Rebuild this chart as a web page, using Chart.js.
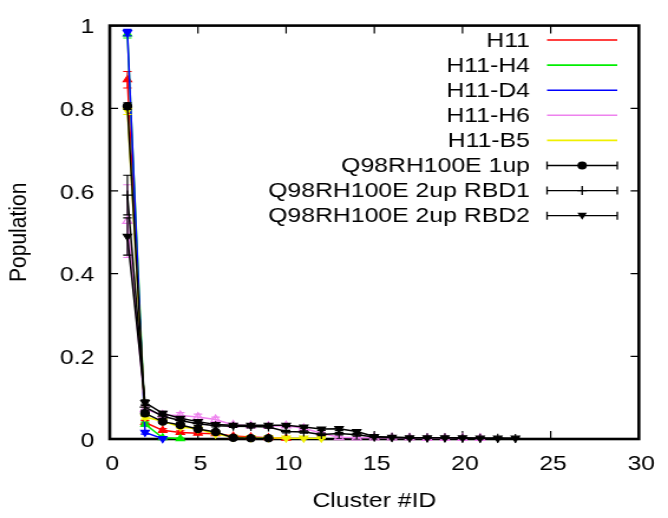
<!DOCTYPE html>
<html><head><meta charset="utf-8">
<script src="https://cdn.jsdelivr.net/npm/chart.js@4/dist/chart.umd.min.js"></script>
<style>
html,body{margin:0;padding:0;background:#fff;}
#wrap{width:668px;height:518px;overflow:hidden;position:relative;background:#fff;}
#c{transform:scaleX(1.180212);transform-origin:0 0;display:block;}
</style></head><body>
<div id="wrap"><canvas id="c" width="566" height="518"></canvas></div>
<script>
// ---- data ----
const clusterIds = [1,2,3,4,5,6,7,8,9,10,11,12,13,14,15,16,17,18,19,20,21,22,23];
const xTickValues = [0,5,10,15,20,25,30];
const yTickValues = [0,0.2,0.4,0.6,0.8,1];
const seriesNames = ['H11','H11-H4','H11-D4','H11-H6','H11-B5','Q98RH100E 1up','Q98RH100E 2up RBD1','Q98RH100E 2up RBD2'];

const h11    = [0.869,0.040,0.021,0.016,0.014,0.013,0.007,0.005,0.003,0.002];
const h11Err = [0.020,0.005,0.004,0.004,0.003,0.003,0.002,0.002,0.001,0.001];

const h11h4    = [0.980,0.036,0.003,0.001];
const h11h4Err = [0.010,0.005,0.001,0.001];

const h11d4    = [0.983,0.016,0.001];
const h11d4Err = [0.008,0.004,0.001];

const h11h6    = [0.527,0.072,0.058,0.057,0.053,0.047,0.034,0.032,0.031,0.032,0.026,0.014,0.004,0.003,0.003,0.003,0.003,0.002,0.002,0.002,0.002];
const h11h6Err = [0.088,0.008,0.007,0.007,0.007,0.006,0.004,0.003,0.003,0.003,0.003,0.002,0.001,0.001,0.001,0.001,0.001,0.001,0.001,0.001,0.001];

const h11b5    = [0.795,0.053,0.043,0.029,0.024,0.012,0.004,0.003,0.003,0.002,0.002,0.002];
const h11b5Err = [0.010,0.005,0.004,0.004,0.003,0.002,0.001,0.001,0.001,0.001,0.001,0.001];

const up1    = [0.805,0.062,0.042,0.034,0.024,0.017,0.003,0.002,0.002];
const up1Err = [0.008,0.006,0.004,0.004,0.003,0.002,0.001,0.001,0.001];

const rbd1    = [0.590,0.077,0.055,0.045,0.037,0.032,0.031,0.030,0.029,0.018,0.017,0.011,0.013,0.010,0.005,0.004,0.003,0.003,0.003,0.002,0.002,0.002,0.001];
const rbd1Err = [0.048,0.007,0.005,0.004,0.004,0.003,0.003,0.003,0.003,0.003,0.003,0.003,0.003,0.003,0.002,0.001,0.001,0.001,0.001,0.001,0.001,0.001,0.001];

const rbd2    = [0.490,0.088,0.062,0.050,0.042,0.035,0.033,0.033,0.033,0.033,0.029,0.024,0.025,0.018,0.006,0.004,0.003,0.003,0.003,0.003,0.002,0.002,0.002];
const rbd2Err = [0.045,0.007,0.005,0.004,0.004,0.003,0.003,0.003,0.003,0.003,0.003,0.003,0.004,0.004,0.002,0.001,0.001,0.001,0.001,0.001,0.001,0.001,0.001];

// ---- styling ----
const FONT = '"Liberation Sans", Arial, Helvetica, sans-serif';
Chart.defaults.font.family = FONT;
Chart.defaults.color = '#000';

function pts(vals){ return vals.map((v,i)=>({x:clusterIds[i], y:v})); }

const styles = [
  {color:'#ff0000', fill:'#ff0000', style:'triangle', rot:0,   r:4},
  {color:'#00ee00', fill:'#00ee00', style:'triangle', rot:0,   r:4},
  {color:'#0000ff', fill:'#0000ff', style:'triangle', rot:180, r:4},
  {color:'#ee82ee', fill:'rgba(0,0,0,0)', style:'triangle', rot:0, r:4.5},
  {color:'#f0f000', fill:'#f0f000', style:'triangle', rot:180, r:4},
  {color:'#000000', fill:'#000000', style:'circle',   rot:0,   r:3.6},
  {color:'#000000', fill:'#000000', style:'cross',    rot:0,   r:4.5},
  {color:'#000000', fill:'#000000', style:'triangle', rot:180, r:4}
];
const values = [h11,h11h4,h11d4,h11h6,h11b5,up1,rbd1,rbd2];
const errs   = [h11Err,h11h4Err,h11d4Err,h11h6Err,h11b5Err,up1Err,rbd1Err,rbd2Err];

const datasets = values.map((v,i)=>({
  label: seriesNames[i],
  data: pts(v),
  errors: errs[i],
  borderColor: styles[i].color,
  backgroundColor: styles[i].fill,
  pointBackgroundColor: styles[i].fill,
  pointBorderColor: styles[i].color,
  pointStyle: styles[i].style,
  pointRotation: styles[i].rot,
  pointRadius: styles[i].r,
  pointBorderWidth: 1.2,
  borderWidth: 1.5,
  tension: 0,
  fill: false,
  clip: false,
  order: 8 - i
}));

const errorBars = {
  id:'errorBars',
  beforeDatasetDraw(chart, args){
    const ds = chart.data.datasets[args.index];
    const y = chart.scales.y, ctx = chart.ctx;
    ctx.save();
    ctx.strokeStyle = ds.borderColor;
    ctx.lineWidth = 1.2;
    args.meta.data.forEach((p,j)=>{
      const v = ds.data[j].y, e = ds.errors[j];
      const t = y.getPixelForValue(v+e), b = y.getPixelForValue(Math.max(0,v-e) === 0 ? v-e : v-e);
      const hw = 3.6;
      ctx.beginPath();
      ctx.moveTo(p.x,t); ctx.lineTo(p.x,b);
      ctx.moveTo(p.x-hw,t); ctx.lineTo(p.x+hw,t);
      ctx.moveTo(p.x-hw,b); ctx.lineTo(p.x+hw,b);
      ctx.stroke();
    });
    ctx.restore();
  }
};

const frame = {
  id:'frame',
  beforeDatasetsDraw(chart){
    const {ctx, chartArea:a, scales:{x,y}} = chart;
    ctx.save();
    ctx.strokeStyle = '#000';
    ctx.lineWidth = 1.2;
    ctx.beginPath();
    x.ticks.forEach(t=>{
      const px = x.getPixelForValue(t.value);
      ctx.moveTo(px,a.bottom); ctx.lineTo(px,a.bottom-8);
      ctx.moveTo(px,a.top); ctx.lineTo(px,a.top+8);
    });
    y.ticks.forEach(t=>{
      const py = y.getPixelForValue(t.value);
      ctx.moveTo(a.left,py); ctx.lineTo(a.left+7,py);
      ctx.moveTo(a.right,py); ctx.lineTo(a.right-7,py);
    });
    ctx.stroke();
    ctx.lineWidth = 2.6;
    ctx.strokeRect(a.left,a.top,a.right-a.left,a.bottom-a.top);
    ctx.restore();
  }
};

const legendBox = {
  id:'legendBox',
  afterDraw(chart){
    const ctx = chart.ctx;
    ctx.save();
    ctx.font = '21px ' + FONT;
    ctx.textAlign = 'right';
    ctx.textBaseline = 'middle';
    const textX = 449, x0 = 463.5, x1 = 523, xm = (x0+x1)/2;
    seriesNames.forEach((name,i)=>{
      const yy = 40 + i*25.1;
      ctx.fillStyle = '#000';
      ctx.fillText(name, textX, yy+1);
      const s = styles[i];
      ctx.strokeStyle = s.color;
      ctx.lineWidth = i < 5 ? 1.6 : 1.3;
      ctx.beginPath();
      ctx.moveTo(x0,yy); ctx.lineTo(x1,yy);
      if (i >= 5) {
        ctx.moveTo(x0,yy-4); ctx.lineTo(x0,yy+4);
        ctx.moveTo(x1,yy-4); ctx.lineTo(x1,yy+4);
      }
      ctx.stroke();
      ctx.fillStyle = '#000';
      if (i === 5) {
        ctx.beginPath(); ctx.arc(xm,yy,4,0,Math.PI*2); ctx.fill();
      } else if (i === 6) {
        ctx.beginPath(); ctx.moveTo(xm,yy-4.5); ctx.lineTo(xm,yy+4.5);
        ctx.moveTo(xm-4,yy); ctx.lineTo(xm+4,yy); ctx.stroke();
      } else if (i === 7) {
        ctx.beginPath(); ctx.moveTo(xm-4,yy-3); ctx.lineTo(xm+4,yy-3); ctx.lineTo(xm,yy+4); ctx.closePath(); ctx.fill();
      }
    });
    ctx.restore();
  }
};

new Chart(document.getElementById('c'), {
  type:'line',
  data:{datasets},
  plugins:[errorBars, frame, legendBox],
  options:{
    responsive:false,
    animation:false,
    events:[],
    layout:{padding:{left:0, right:18, top:18, bottom:0}},
    plugins:{legend:{display:false}, tooltip:{enabled:false}},
    scales:{
      x:{
        type:'linear', min:0, max:30,
        afterBuildTicks(s){ s.ticks = xTickValues.map(v=>({value:v})); },
        afterFit(s){ s.height = 79; },
        grid:{display:false, drawTicks:false},
        border:{display:false},
        ticks:{font:{size:21}, padding:13, labelOffset:2, maxRotation:0, autoSkip:false, callback:v=>String(v)},
        title:{display:true, text:'Cluster #ID', font:{size:21}, padding:{top:0,bottom:4}}
      },
      y:{
        type:'linear', min:0, max:1,
        afterBuildTicks(s){ s.ticks = yTickValues.map(v=>({value:v})); },
        afterFit(s){ s.width = 93; },
        grid:{display:false, drawTicks:false},
        border:{display:false},
        ticks:{font:{size:21}, padding:13, labelOffset:2, autoSkip:false, callback:v=>String(v)},
        title:{display:true, text:'Population', font:{size:21}, padding:{top:4,bottom:0}}
      }
    }
  }
});
</script>
</body></html>
